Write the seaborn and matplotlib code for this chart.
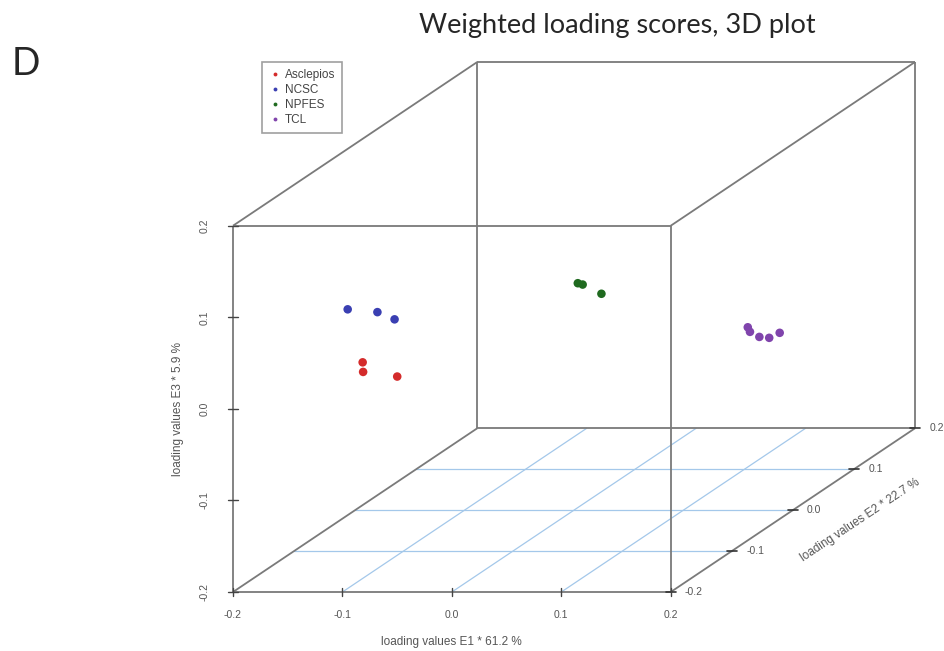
import numpy as np
import pandas as pd
import seaborn as sns
import matplotlib.pyplot as plt

# loading values (E2 depth is estimated)
groups = ["Asclepios"] * 3 + ["NCSC"] * 3 + ["NPFES"] * 3 + ["TCL"] * 5
e1 = [-0.115, -0.109, -0.089,
      -0.151, -0.135, -0.097,
      -0.030, -0.020, -0.014,
      0.103, 0.105, 0.108, 0.117, 0.121]
e2 = [-0.14, -0.15, -0.13,
      -0.10, -0.08, -0.12,
      0.06, 0.05, 0.07,
      0.10, 0.10, 0.11, 0.11, 0.12]
e3 = [0.024, 0.018, 0.004,
      0.064, 0.052, 0.062,
      0.021, 0.024, 0.005,
      -0.045, -0.050, -0.060, -0.061, -0.060]

colors = {"Asclepios": "#d42b2b", "NCSC": "#3a3fb2", "NPFES": "#1f6a1f", "TCL": "#8044ac"}
ticks = [-0.2, -0.1, 0.0, 0.1, 0.2]
tick_labels = ["-0.2", "-0.1", "0.0", "0.1", "0.2"]

# oblique projection like scatterplot3d: depth (E2) shifts right and up
DX, DZ = 0.558, 0.447


def proj(x, y, z):
    x, y, z = np.asarray(x, float), np.asarray(y, float), np.asarray(z, float)
    return x + (y + 0.2) * DX, z + (y + 0.2) * DZ


df = pd.DataFrame({"Group": groups, "E1": e1, "E2": e2, "E3": e3})
df["u"], df["v"] = proj(df["E1"], df["E2"], df["E3"])

sns.set_style("white")
plt.rcParams['font.family'] = ['Liberation Sans', 'DejaVu Sans']

fig = plt.figure(figsize=(9.45, 6.51), dpi=100)
ax = fig.add_axes([233 / 945, 1 - 592 / 651, 682 / 945, 530 / 651])
ax.set_xlim(-0.2, 0.2 + 0.4 * DX)
ax.set_ylim(-0.2, 0.2 + 0.4 * DZ)
ax.axis('off')

# floor grid
grid_c = "#a4c8ea"
for t in ticks[1:-1]:
    xs, ys = proj([-0.2, 0.2], [t, t], [-0.2, -0.2])
    ax.plot(xs, ys, color=grid_c, lw=0.9, zorder=1)
    xs, ys = proj([t, t], [-0.2, 0.2], [-0.2, -0.2])
    ax.plot(xs, ys, color=grid_c, lw=0.9, zorder=1)

# box edges
box_c = "#7a7a7a"
edges = [
    ((-0.2, -0.2, -0.2), (0.2, -0.2, -0.2)),
    ((-0.2, -0.2, 0.2), (0.2, -0.2, 0.2)),
    ((-0.2, -0.2, -0.2), (-0.2, -0.2, 0.2)),
    ((0.2, -0.2, -0.2), (0.2, -0.2, 0.2)),
    ((-0.2, 0.2, -0.2), (0.2, 0.2, -0.2)),
    ((-0.2, 0.2, 0.2), (0.2, 0.2, 0.2)),
    ((-0.2, 0.2, -0.2), (-0.2, 0.2, 0.2)),
    ((0.2, 0.2, -0.2), (0.2, 0.2, 0.2)),
    ((-0.2, -0.2, -0.2), (-0.2, 0.2, -0.2)),
    ((0.2, -0.2, -0.2), (0.2, 0.2, -0.2)),
    ((-0.2, -0.2, 0.2), (-0.2, 0.2, 0.2)),
    ((0.2, -0.2, 0.2), (0.2, 0.2, 0.2)),
]
for a, b in edges:
    xs, ys = proj([a[0], b[0]], [a[1], b[1]], [a[2], b[2]])
    ax.plot(xs, ys, color=box_c, lw=1.3, zorder=2, solid_capstyle='butt', clip_on=False)

sns.scatterplot(data=df, x="u", y="v", hue="Group", palette=colors, s=38,
                edgecolor="none", ax=ax, zorder=3)

tk = dict(fontsize=7.5, color="#555555")
for t, lab in zip(ticks, tick_labels):
    # E1 axis
    ax.plot([t, t], [-0.2045, -0.1955], color="#444444", lw=1, clip_on=False)
    ax.text(t, -0.2251, lab, ha='center', va='center', **tk)
    # E3 axis
    ax.plot([-0.2045, -0.1955], [t, t], color="#444444", lw=1, clip_on=False)
    ax.text(-0.2256, t, lab, ha='center', va='center', rotation=90, **tk)
    # E2 axis
    u, v = proj(0.2, t, -0.2)
    ax.plot([u - 0.0045, u + 0.0045], [v, v], color="#333333", lw=1.2, clip_on=False)
    ax.text(u + 0.013, v, lab, ha='left', va='center', **tk)

lab_kw = dict(ha='center', va='center', fontsize=8.5, color="#555555")
ax.text(0.0, -0.2546, "loading values E1 * 61.2 %", **lab_kw)
ax.text(-0.2503, 0.0, "loading values E3 * 5.9 %", rotation=90, **lab_kw)
ax.text(0.3731, -0.1214, "loading values E2 * 22.7 %", rotation=33.6, **lab_kw)

leg = ax.legend(loc='upper left', bbox_to_anchor=(262 / 945, 1 - 62 / 651), bbox_transform=fig.transFigure,
                fontsize=8.5, frameon=True, fancybox=False, edgecolor="#888888", markerscale=0.45,
                handletextpad=0.35, labelspacing=0.25, borderpad=0.6, handlelength=1.0,
                borderaxespad=0)
leg.get_frame().set_linewidth(1.2)
for t in leg.get_texts():
    t.set_color("#444444")

fig.text(617 / 945, 1 - 33 / 651, "Weighted loading scores, 3D plot", ha='center', va='baseline',
         fontsize=19.5, family=['Lato', 'DejaVu Sans'])
fig.text(12 / 945, 1 - 75 / 651, "D", ha='left', va='baseline', fontsize=27, family=['Lato', 'DejaVu Sans'])

fig.savefig("out.png", dpi=100)
